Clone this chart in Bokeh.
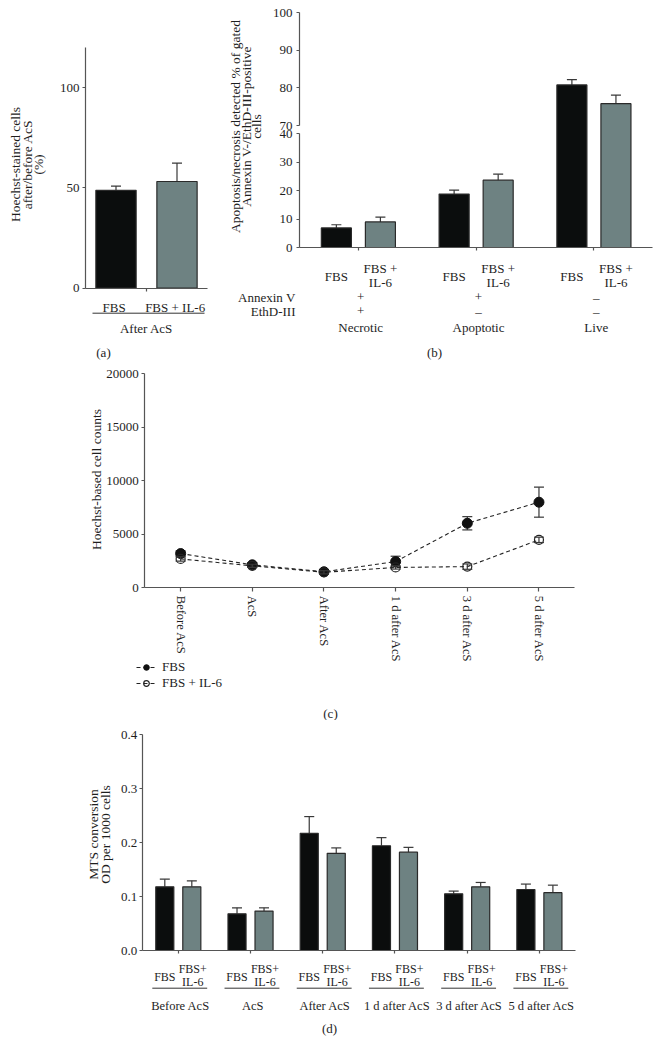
import numpy as np
from bokeh.plotting import figure
from bokeh.models import (Range1d, LinearAxis, FixedTicker, Whisker, ColumnDataSource,
                          TeeHead, Legend, LegendItem, NumeralTickFormatter)
from bokeh.layouts import column, row
from bokeh.embed import file_html
from bokeh.resources import INLINE
from bokeh.core.properties import value

# ---------------- data ----------------
# (a) Hoechst-stained cells after/before AcS (%)
a_conditions = ["FBS", "FBS + IL-6"]
a_group_label = "After AcS"
a_percent = [48.8, 53.2]
a_percent_err = [2.1, 9.2]
a_yticks = [0, 50, 100]

# (b) Annexin V / EthD-III flow cytometry
b_classes = ["Necrotic", "Apoptotic", "Live"]
b_annexin = ["+", "+", "\u2013"]
b_ethd = ["+", "\u2013", "\u2013"]
b_fbs = [6.9, 18.8, 80.8]
b_fbs_err = [1.1, 1.4, 1.4]
b_il6 = [9.0, 23.7, 75.8]
b_il6_err = [1.7, 2.1, 2.3]
b_yticks_low = [0, 10, 20, 30, 40]
b_yticks_high = [70, 80, 90, 100]

# (c) Hoechst-based cell counts
c_times = ["Before AcS", "AcS", "After AcS", "1 d after AcS", "3 d after AcS", "5 d after AcS"]
c_fbs = [3200, 2150, 1500, 2450, 6030, 8000]
c_fbs_err = [250, 200, 200, 500, 620, 1400]
c_il6 = [2700, 2050, 1450, 1900, 1980, 4480]
c_il6_err = [200, 150, 150, 150, 250, 250]
c_yticks = [0, 5000, 10000, 15000, 20000]

# (d) MTS conversion OD per 1000 cells
d_times = ["Before AcS", "AcS", "After AcS", "1 d after AcS", "3 d after AcS", "5 d after AcS"]
d_fbs = [0.118, 0.068, 0.217, 0.194, 0.105, 0.113]
d_fbs_err = [0.014, 0.011, 0.031, 0.015, 0.005, 0.010]
d_il6 = [0.118, 0.073, 0.180, 0.182, 0.118, 0.107]
d_il6_err = [0.011, 0.006, 0.010, 0.009, 0.008, 0.014]
d_yticks = [0.0, 0.1, 0.2, 0.3, 0.4]

# ---------------- styles ----------------
FONT = "Liberation Serif"
TEXT = "#1e1e1e"
AXIS = "#555555"
BLACK_FILL = "#0b0d0d"
GRAY_FILL = "#6e8282"
BAR_LINE = "#2a2a2a"
ERR = "#383838"


def lin(d0, p0, d1, p1):
    """page pixel -> data value"""
    k = (d1 - d0) / (p1 - p0)
    return lambda p: d0 + (p - p0) * k


def panel(left, top, w, h, X, Y):
    p = figure(width=w, height=h, x_range=Range1d(X(left), X(left + w)),
               y_range=Range1d(Y(top + h), Y(top)), output_backend="svg",
               toolbar_location=None, min_border=0, outline_line_color=None)
    p.grid.visible = False
    p.xaxis.fixed_location = 0
    p.yaxis.fixed_location = 0
    return p


def style_axis(ax, ticks, bounds, tick_out=3, standoff=3, size="13px", labels=True):
    ax.ticker = FixedTicker(ticks=list(ticks))
    ax.bounds = bounds
    ax.axis_line_color = AXIS
    ax.axis_line_width = 1.2
    ax.major_tick_line_color = AXIS
    ax.major_tick_line_width = 1.2
    ax.major_tick_in = 0
    ax.major_tick_out = tick_out
    ax.minor_tick_line_color = None
    ax.major_label_standoff = standoff
    ax.major_label_text_font = FONT
    ax.major_label_text_font_size = size
    ax.major_label_text_color = TEXT
    if not labels:
        ax.major_label_overrides = {float(t): "" for t in ticks}


def words(p, xs, ys, texts, size="13px", align="center", baseline="alphabetic", angle=0.0):
    p.text(x=list(xs), y=list(ys), text=list(texts), text_font=value(FONT),
           text_font_size=value(size), text_align=align, text_baseline=baseline,
           angle=angle, text_color=TEXT)


def hline(p, x0, x1, y):
    p.segment(x0=list(x0), x1=list(x1), y0=list(y), y1=list(y), line_color="#333333", line_width=1)


def whisk(p, x, lo, hi, both=False, range_name="default", level="underlay"):
    src = ColumnDataSource(dict(x=list(x), lo=list(lo), hi=list(hi)))
    head = lambda: TeeHead(size=10, line_color=ERR, line_width=1.2)
    w = Whisker(base="x", lower="lo", upper="hi", source=src, line_color=ERR, line_width=1.2,
                upper_head=head(), lower_head=head() if both else None,
                y_range_name=range_name, level=level)
    p.add_layout(w)


DODGE = 0.187

# ---------------- (a) ----------------
Xa = lin(0, 85, 2, 207)
Ya = lin(0, 287.7, 120, 47)
pa = panel(0, 0, 223, 365, Xa, Ya)
xa = np.arange(len(a_conditions)) + 0.5
style_axis(pa.yaxis[0], a_yticks, (0, 120))
style_axis(pa.xaxis[0], [1.0], (0, 2), labels=False)
pa.vbar(x=xa, top=a_percent, bottom=0, width=0.66, fill_color=[BLACK_FILL, GRAY_FILL],
        line_color=BAR_LINE, line_width=1.2)
whisk(pa, xa, a_percent, np.add(a_percent, a_percent_err))
words(pa, xa - 0.03, [Ya(306.5)] * 2, a_conditions)
hline(pa, [Xa(92)], [Xa(204)], [Ya(312.7)])
words(pa, [Xa(146)], [Ya(328.3)], [a_group_label])
words(pa, [Xa(103)], [Ya(352)], ["(a)"])
words(pa, [Xa(15), Xa(26.7), Xa(38.3)], [Ya(164)] * 3,
      ["Hoechst-stained cells", "after/before AcS", "(%)"],
      size="13.5px", baseline="middle", angle=np.pi / 2)

# ---------------- (b) ----------------
Xb = lin(0, 299, 3, 652.3)
Yb = lin(0, 247, 40, 133.3)
Yb_page = lin(247, 0, 133.3, 40)          # data -> page for the lower segment
Yb_hi = lin(70, 125, 100, 12.3)
pb = panel(223, 0, 437, 365, Xb, Yb)
pb.extra_y_ranges = {"upper": Range1d(Yb_hi(365), Yb_hi(0))}
style_axis(pb.yaxis[0], b_yticks_low, (0, 40), tick_out=3, standoff=4)
ax_hi = LinearAxis(y_range_name="upper", fixed_location=0)
style_axis(ax_hi, b_yticks_high, (70, 100), tick_out=3, standoff=4)
pb.add_layout(ax_hi, "left")
gb = np.arange(len(b_classes)) + 0.5
style_axis(pb.xaxis[0], gb, (0, 3), labels=False)
upper_base = Yb_hi(Yb_page(0))
for vals, errs, off, col in [(b_fbs, b_fbs_err, -DODGE, BLACK_FILL), (b_il6, b_il6_err, DODGE, GRAY_FILL)]:
    v = np.array(vals, dtype=float)
    e = np.array(errs, dtype=float)
    x = gb + off
    low = v <= b_yticks_low[-1]
    pb.vbar(x=x[low], top=v[low], bottom=0, width=0.255, fill_color=col,
            line_color=BAR_LINE, line_width=1.2)
    pb.vbar(x=x[~low], top=v[~low], bottom=upper_base, width=0.255, fill_color=col,
            line_color=BAR_LINE, line_width=1.2, y_range_name="upper")
    whisk(pb, x[low], v[low], (v + e)[low])
    whisk(pb, x[~low], v[~low], (v + e)[~low], range_name="upper")
n = len(b_classes)
words(pb, gb - DODGE, [Yb(276)] * n, ["FBS"] * n)
words(pb, gb + DODGE, [Yb(267.5)] * n, ["FBS +"] * n)
words(pb, gb + DODGE, [Yb(281.5)] * n, ["IL-6"] * n)
words(pb, [Xb(295), Xb(295)], [Yb(296.7), Yb(310.7)], ["Annexin V", "EthD-III"], align="right")
words(pb, gb + 0.02, [Yb(296.7)] * n, b_annexin)
words(pb, gb + 0.02, [Yb(310.7)] * n, b_ethd)
words(pb, gb + 0.02, [Yb(326.7)] * n, b_classes)
words(pb, [Xb(434)], [Yb(351.5)], ["(b)"])
words(pb, [Xb(235), Xb(245.5), Xb(256)], [Yb(126)] * 3,
      ["Apoptosis/necrosis detected % of gated", "Annexin V-/EthD-III-positive", "cells"],
      size="13.5px", baseline="middle", angle=np.pi / 2)

# ---------------- (c) ----------------
Xc = lin(0, 144.3, 6, 574.3)
Yc = lin(0, 587.3, 20000, 373.3)
pc = panel(0, 365, 660, 355, Xc, Yc)
xc = np.arange(len(c_times)) + 0.5
style_axis(pc.yaxis[0], c_yticks, (0, 20000), tick_out=3, standoff=3)
style_axis(pc.xaxis[0], xc, (0, 6), tick_out=4, standoff=4, size="12.5px")
pc.xaxis[0].major_label_overrides = {float(x): t for x, t in zip(xc, c_times)}
pc.xaxis[0].major_label_orientation = "vertical"
whisk(pc, xc, np.subtract(c_fbs, c_fbs_err), np.add(c_fbs, c_fbs_err), both=True)
l1 = pc.line(xc, c_fbs, line_dash="4 3", line_color="#222222", line_width=1.1)
s1 = pc.scatter(xc, c_fbs, size=10, marker="circle", fill_color="#111111", line_color="#111111")
l2 = pc.line(xc, c_il6, line_dash="4 3", line_color="#222222", line_width=1.1)
s2 = pc.scatter(xc, c_il6, size=9, marker="circle", fill_alpha=0, line_color="#222222", line_width=1.2)
whisk(pc, xc, np.subtract(c_il6, c_il6_err), np.add(c_il6, c_il6_err), both=True, level="annotation")
leg = Legend(items=[LegendItem(label="FBS", renderers=[l1, s1]),
                    LegendItem(label="FBS + IL-6", renderers=[l2, s2])],
             location=(136, 720 - 691), glyph_width=20, glyph_height=14, label_height=14,
             label_standoff=6, spacing=0, padding=0, margin=0, border_line_color=None,
             background_fill_alpha=0, label_text_font=FONT, label_text_font_size="13px",
             label_text_color=TEXT)
pc.add_layout(leg)
words(pc, [Xc(96)], [Yc(479)], ["Hoechst-based cell counts"], size="13.5px",
      baseline="middle", angle=np.pi / 2)
words(pc, [Xc(330)], [Yc(713)], ["(c)"])

# ---------------- (d) ----------------
Xd = lin(0, 141.7, 6, 575)
Yd = lin(0, 950, 0.4, 734)
pd_ = panel(0, 720, 660, 330, Xd, Yd)
gd = np.arange(len(d_times)) + 0.5
style_axis(pd_.yaxis[0], d_yticks, (0, 0.4), tick_out=3, standoff=2)
pd_.yaxis[0].formatter = NumeralTickFormatter(format="0.0")
style_axis(pd_.xaxis[0], gd, (0, 6), labels=False)
for vals, errs, off, col in [(d_fbs, d_fbs_err, -DODGE, BLACK_FILL), (d_il6, d_il6_err, DODGE, GRAY_FILL)]:
    x = gd + off
    pd_.vbar(x=x, top=vals, bottom=0, width=0.25, fill_color=col, line_color=BAR_LINE, line_width=1.2)
    whisk(pd_, x, vals, np.add(vals, errs))
m = len(d_times)
words(pd_, gd - DODGE, [Yd(976.7)] * m, ["FBS"] * m, size="12px")
words(pd_, gd + 0.2, [Yd(968.3)] * m, ["FBS+"] * m, size="12px")
words(pd_, gd + 0.2, [Yd(981.7)] * m, ["IL-6"] * m, size="12px")
hline(pd_, gd - 0.36, gd + 0.40, [Yd(987.7)] * m)
words(pd_, gd + 0.03, [Yd(1005.7)] * m, d_times, size="12.5px")
words(pd_, [Xd(329)], [Yd(1028)], ["(d)"])
words(pd_, [Xd(93), Xd(105)], [Yd(834)] * 2, ["MTS conversion", "OD per 1000 cells"],
      size="13.5px", baseline="middle", angle=np.pi / 2)

layout = column(row(pa, pb), pc, pd_)
open("out.html", "w").write(file_html(layout, INLINE))
